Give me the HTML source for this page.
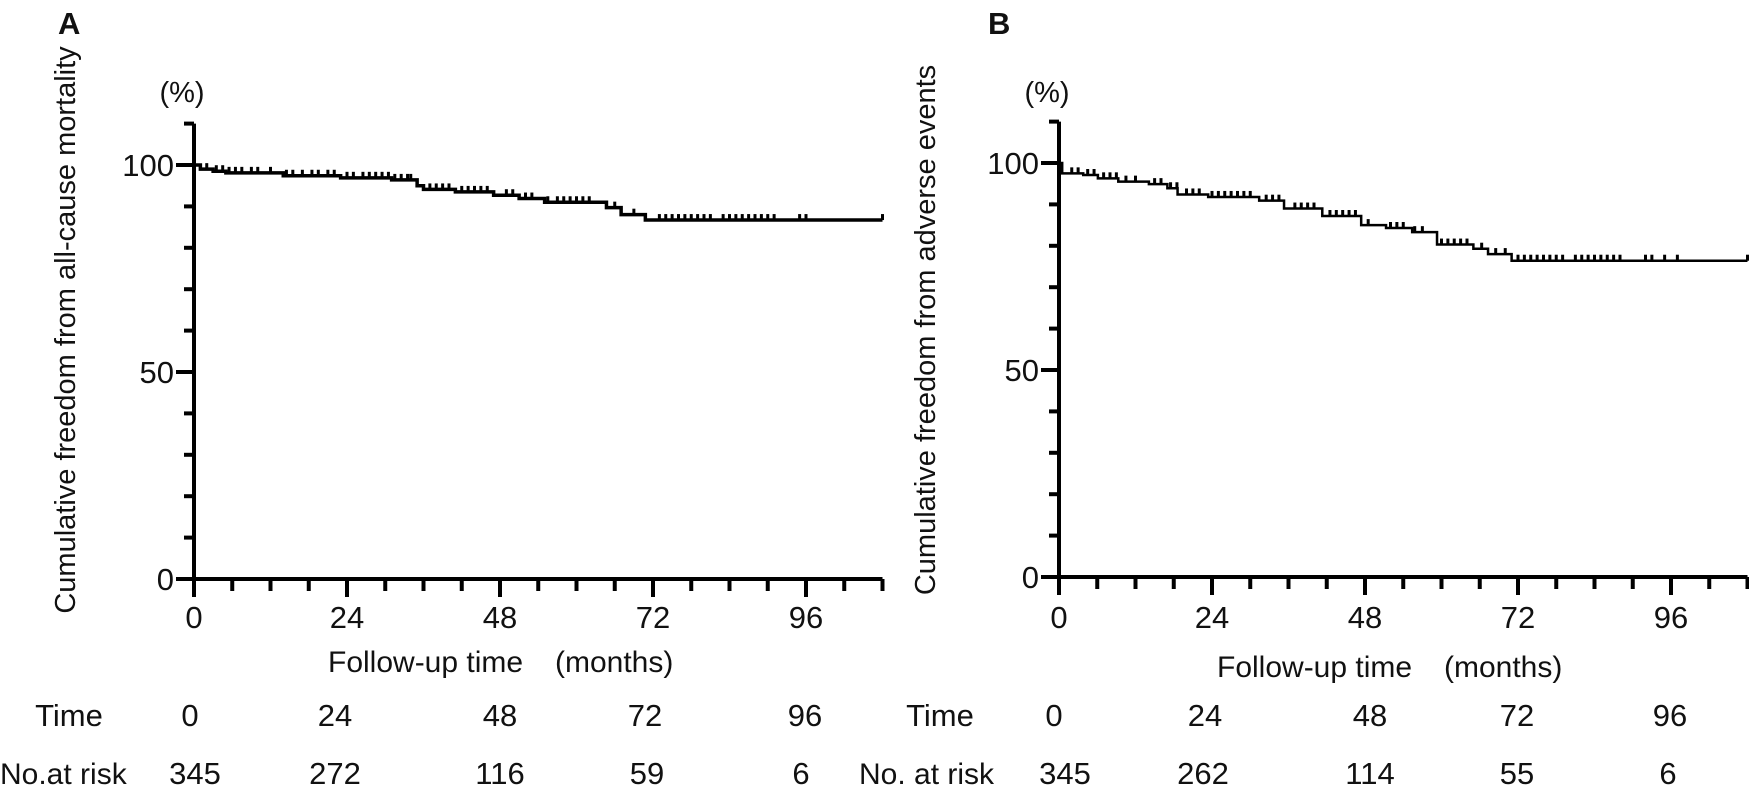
<!DOCTYPE html>
<html><head><meta charset="utf-8"><style>
html,body{margin:0;padding:0;background:#fff}
svg{display:block}
text{font-family:"Liberation Sans",Arial,sans-serif;fill:#111}
</style></head><body>
<svg id="chart" width="1749" height="789" viewBox="0 0 1749 789" xmlns="http://www.w3.org/2000/svg"></svg>
<script>
// ---- data ----
const xTicksMajor = [0, 24, 48, 72, 96];
const yTicksMajor = [0, 50, 100];
const riskTimes = ["0", "24", "48", "72", "96"];
const riskA = ["345", "272", "116", "59", "6"];
const riskB = ["345", "262", "114", "55", "6"];
// step curve A: [time, survival%]
const stepTimesA = [0, 1, 3, 5, 14, 23, 31, 35, 36, 41, 47, 51, 55, 64.7, 67, 70.8, 108];
const stepValsA  = [100, 99, 98.5, 98.1, 97.4, 96.9, 96.4, 95, 94.1, 93.5, 92.7, 91.9, 91, 89.7, 88, 86.7, 86.7];
const censorA = [2,3.5,4.5,5.5,6.5,7.5,9,10,12,14.5,15.5,17,18.5,19.5,21,22,24,25,26.5,27.5,28.5,29.5,30.5,31.5,32.5,33.5,34,37,38,39,40,42,43,44,45,46,49,50,52,53,55.5,57,58,59,60,61,62,66,69,73,74,75,76,77,78,79,80,81,83,84,85,86,87,88,89,90,91,95,96,108];
// step curve B
const stepTimesB = [0, 0.5, 3.8, 6.1, 9.3, 14.1, 17, 18.6, 23.4, 31.4, 35.3, 41.3, 47.4, 51.3, 55.4, 59.3, 65, 67.3, 71, 108];
const stepValsB  = [100, 97.5, 97.1, 96.3, 95.5, 94.9, 93.9, 92.4, 91.8, 90.9, 89, 87.2, 85, 84.3, 83.3, 80.3, 79.3, 78, 76.4, 76.4];
const censorB = [2,3,4.5,5.5,7,8,9,10.5,12,15,16,17.5,18.5,20,21,22,24,25,26,27,28,29,30,32.5,33.5,34.5,37,38,39,40,42.5,43.5,44.5,45.5,46.5,48.5,52,53,54,55.8,57,60,61,62,63,64,66.3,68.5,70,72,73,74,75,76,77,78,79,81,82,83,84,85,86,87,88,92,93,95,97,108];

const NS = "http://www.w3.org/2000/svg";
const svg = document.getElementById('chart');
function mk(tag, attrs, parent, txt){
  const e = document.createElementNS(NS, tag);
  for (const k in attrs) e.setAttribute(k, attrs[k]);
  if (txt !== undefined) e.textContent = txt;
  (parent || svg).appendChild(e);
  return e;
}
const PX_PER_MONTH = 153/24;
const PX_PER_PCT = 4.14;

function panel(cfg){
  const g = mk('g', {});
  
  
  const x = t => cfg.x0 + t * PX_PER_MONTH;
  const y = v => cfg.y0 - v * PX_PER_PCT;
  const xEnd = x(cfg.tMax);
  const ya = mk('line', {x1:cfg.x0, y1:y(110), x2:cfg.x0, y2:cfg.y0+2, stroke:'#000','stroke-width':4}, g);
  
  
  const xa = mk('line', {x1:cfg.x0-18, y1:cfg.y0, x2:xEnd, y2:cfg.y0, stroke:'#000','stroke-width':4}, g);
  
  
  for (let v = 10; v <= 110; v += 10) {
    const major = yTicksMajor.includes(v);
    const len = major ? 18 : 10;
    const tk = mk('line', {x1:cfg.x0-len, y1:y(v), x2:cfg.x0, y2:y(v), stroke:'#000','stroke-width':4}, g);
    
    
  }
  yTicksMajor.forEach(v => {
    const t = mk('text', {x:cfg.x0-20, y:y(v)+11, 'text-anchor':'end','font-size':31}, g, String(v));
    
    
  });
  for (let t = 0; t <= cfg.tMax; t += 6) {
    const major = xTicksMajor.includes(t);
    const tk = mk('line', {x1:x(t), y1:cfg.y0, x2:x(t), y2:cfg.y0 + (major ? 18 : 12), stroke:'#000','stroke-width':4}, g);
    
    
  }
  xTicksMajor.forEach(t => {
    const tl = mk('text', {x:x(t), y:628, 'text-anchor':'middle','font-size':31}, g, String(t));
    
    
  });
  let d = `M${x(cfg.times[0])},${y(cfg.vals[0])}`;
  for (let i = 1; i < cfg.times.length; i++) {
    d += ` H${x(cfg.times[i])} V${y(cfg.vals[i])}`;
  }
  const p = mk('path', {d:d, fill:'none', stroke:'#000','stroke-width':cfg.sw}, g);
  
  
  function valAt(t){
    let v = cfg.vals[0];
    for (let i = 0; i < cfg.times.length; i++) if (cfg.times[i] <= t) v = cfg.vals[i];
    return v;
  }
  cfg.censor.forEach(t => {
    const c = mk('line', {x1:x(t), y1:y(valAt(t)), x2:x(t), y2:y(valAt(t))-6, stroke:'#000','stroke-width':3}, g);
    
    
  });
  const pct = mk('text', {x:cfg.x0-12, y:102, 'text-anchor':'middle','font-size':29}, g, '(%)');
  
  
  const yt = mk('text', {x:0, y:0, 'text-anchor':'middle','font-size':29, transform:`translate(${cfg.ytX},${cfg.ytY}) rotate(-90)`}, g, cfg.yTitle);
  
  
  const xt = mk('text', {x:cfg.xtX, y:cfg.xtY, 'font-size':30}, g, 'Follow-up time');
  
  
  const xu = mk('text', {x:cfg.xtX+227, y:cfg.xtY, 'font-size':30}, g, '(months)');
  
  
  const pl = mk('text', {x:cfg.plX, y:34, 'font-size':31,'font-weight':'bold'}, g, cfg.letter);
  
  
  const tl = mk('text', {x:cfg.timeX, y:726, 'text-anchor':'middle','font-size':31}, g, 'Time');
  
  
  const nl = mk('text', {x:cfg.riskLabelX, y:784, 'font-size':30}, g, cfg.riskLabel);
  
  
  cfg.colX.forEach((cx, i) => {
    const a = mk('text', {x:cx, y:726, 'text-anchor':'middle','font-size':31}, g, riskTimes[i]);
    
    
    const b = mk('text', {x:cfg.riskX[i], y:784, 'text-anchor':'middle','font-size':31}, g, cfg.risk[i]);
    
    
  });
}

panel({name:'panel-a', letter:'A', x0:194, y0:579, tMax:108, times:stepTimesA, vals:stepValsA, censor:censorA, sw:3.5,
  yTitle:'Cumulative freedom from all-cause mortality', ytX:75, ytY:330, xtX:328, xtY:672, plX:58,
  timeX:69, riskLabelX:0, riskLabel:'No.at risk', risk:riskA,
  colX:[190, 335, 500, 645, 805], riskX:[195, 335, 500, 647, 801]});
panel({name:'panel-b', letter:'B', x0:1059, y0:577, tMax:108, times:stepTimesB, vals:stepValsB, censor:censorB, sw:2.5,
  yTitle:'Cumulative freedom from adverse events', ytX:935, ytY:330, xtX:1217, xtY:677, plX:988,
  timeX:940, riskLabelX:859, riskLabel:'No. at risk', risk:riskB,
  colX:[1054, 1205, 1370, 1517, 1670], riskX:[1065, 1203, 1370, 1517, 1668]});
</script>
</body></html>
